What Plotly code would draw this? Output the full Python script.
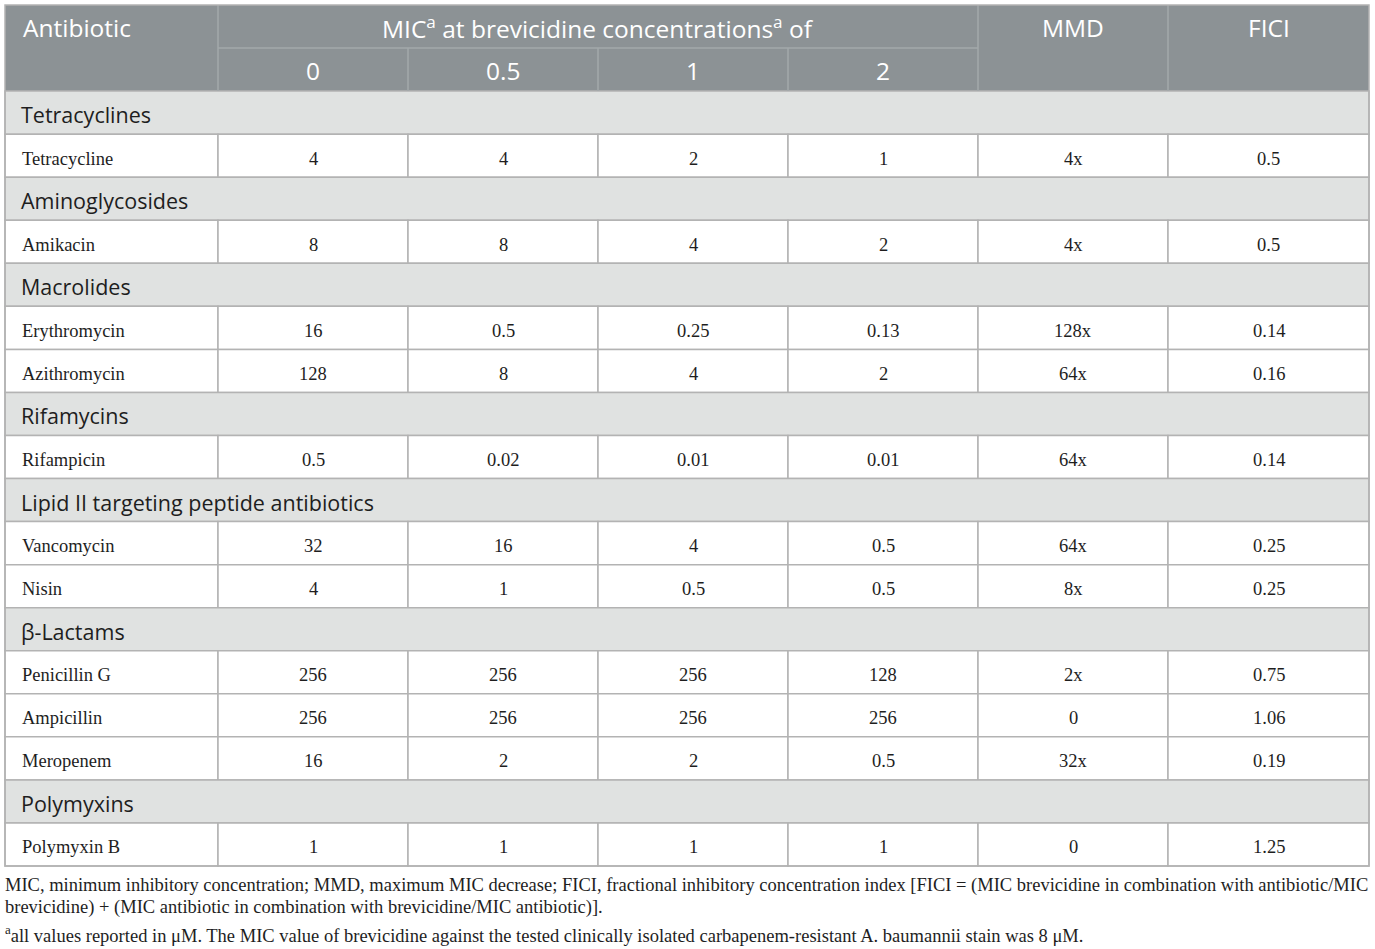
import plotly.graph_objects as go

# table content
classes = ["Tetracyclines", "Aminoglycosides", "Macrolides", "Macrolides", "Rifamycins",
           "Lipid II targeting peptide antibiotics", "Lipid II targeting peptide antibiotics",
           "β-Lactams", "β-Lactams", "β-Lactams", "Polymyxins"]
antibiotics = ["Tetracycline", "Amikacin", "Erythromycin", "Azithromycin", "Rifampicin",
               "Vancomycin", "Nisin", "Penicillin G", "Ampicillin", "Meropenem", "Polymyxin B"]
mic_0 = ["4", "8", "16", "128", "0.5", "32", "4", "256", "256", "16", "1"]
mic_05 = ["4", "8", "0.5", "8", "0.02", "16", "1", "256", "256", "2", "1"]
mic_1 = ["2", "4", "0.25", "4", "0.01", "4", "0.5", "256", "256", "2", "1"]
mic_2 = ["1", "2", "0.13", "2", "0.01", "0.5", "0.5", "128", "256", "0.5", "1"]
mmd = ["4x", "4x", "128x", "64x", "64x", "64x", "8x", "2x", "0", "32x", "0"]
fici = ["0.5", "0.5", "0.14", "0.16", "0.14", "0.25", "0.25", "0.75", "1.06", "0.19", "1.25"]

conc_labels = ["0", "0.5", "1", "2"]
footnote = [
    "MIC, minimum inhibitory concentration; MMD, maximum MIC decrease; FICI, fractional inhibitory concentration index [FICI = (MIC brevicidine in combination with antibiotic/MIC",
    "brevicidine) + (MIC antibiotic in combination with brevicidine/MIC antibiotic)].",
    "<sup>a</sup>all values reported in μM. The MIC value of brevicidine against the tested clinically isolated carbapenem-resistant A. baumannii stain was 8 μM.",
]

# layout constants
W, H = 1375, 949
col_edges = [5, 218, 408, 598, 788, 978, 1168, 1369]
top, bottom = 5, 866
HEAD_BG = "#8c9295"
HEAD_LINE = "#a3a8ab"
GROUP_BG = "#e0e2e1"
BORDER = "#b3b3b3"
SANS = "Open Sans"
SERIF = "Liberation Serif"

# build rows: ('group', name) or ('item', idx)
rows = []
prev = None
for i, c in enumerate(classes):
    if c != prev:
        rows.append(("group", c))
        prev = c
    rows.append(("item", i))

n_rows = len(rows) + 2
rh = (bottom - top) / n_rows


def ry(k):
    return top + k * rh


shapes = []
annos = []

# header background
shapes.append(dict(type="rect", x0=col_edges[0], x1=col_edges[-1], y0=ry(0), y1=ry(2),
                   fillcolor=HEAD_BG, line=dict(width=0), layer="below"))
# header inner lines
for xe in col_edges[1:-1]:
    if xe in col_edges[2:5]:
        shapes.append(dict(type="line", x0=xe, x1=xe, y0=ry(1), y1=ry(2),
                           line=dict(color=HEAD_LINE, width=1.5)))
    else:
        shapes.append(dict(type="line", x0=xe, x1=xe, y0=ry(0), y1=ry(2),
                           line=dict(color=HEAD_LINE, width=1.5)))
shapes.append(dict(type="line", x0=col_edges[1], x1=col_edges[5], y0=ry(1), y1=ry(1),
                   line=dict(color=HEAD_LINE, width=1.5)))

hfont = dict(family=SANS, size=24.5, color="white")
annos.append(dict(x=col_edges[0] + 16, y=(ry(0) + ry(1)) / 2, text="Antibiotic",
                  xanchor="left", font=hfont, yshift=-1))
annos.append(dict(x=(col_edges[1] + col_edges[5]) / 2, y=(ry(0) + ry(1)) / 2,
                  text="MIC<sup>a</sup> at brevicidine concentrations<sup>a</sup> of",
                  font=hfont, yshift=-1))
annos.append(dict(x=(col_edges[5] + col_edges[6]) / 2, y=(ry(0) + ry(1)) / 2,
                  text="MMD", font=hfont, yshift=-1))
annos.append(dict(x=(col_edges[6] + col_edges[7]) / 2, y=(ry(0) + ry(1)) / 2,
                  text="FICI", font=hfont, yshift=-1))
for j, lab in enumerate(conc_labels):
    annos.append(dict(x=(col_edges[j + 1] + col_edges[j + 2]) / 2, y=(ry(1) + ry(2)) / 2,
                      text=lab, font=hfont, yshift=-1))

# body
gfont = dict(family=SANS, size=21.5, color="#1e1e1e")
bfont = dict(family=SERIF, size=18.5, color="#1e1e1e")
for k, (kind, val) in enumerate(rows):
    y0, y1 = ry(k + 2), ry(k + 3)
    ym = (y0 + y1) / 2
    if kind == "group":
        shapes.append(dict(type="rect", x0=col_edges[0], x1=col_edges[-1], y0=y0, y1=y1,
                           fillcolor=GROUP_BG, line=dict(color=BORDER, width=1.5), layer="below"))
        annos.append(dict(x=col_edges[0] + 14, y=ym, text=val, xanchor="left", font=gfont,
                          yshift=-2))
    else:
        cells = [antibiotics[val], mic_0[val], mic_05[val], mic_1[val], mic_2[val], mmd[val], fici[val]]
        for j, txt in enumerate(cells):
            shapes.append(dict(type="rect", x0=col_edges[j], x1=col_edges[j + 1], y0=y0, y1=y1,
                               fillcolor="white", line=dict(color=BORDER, width=1.5), layer="below"))
            if j == 0:
                annos.append(dict(x=col_edges[0] + 15, y=ym, text=txt, xanchor="left", font=bfont,
                                  yshift=-3))
            else:
                annos.append(dict(x=(col_edges[j] + col_edges[j + 1]) / 2, y=ym, text=txt,
                                  font=bfont, yshift=-3))

# outer border
shapes.append(dict(type="rect", x0=col_edges[0], x1=col_edges[-1], y0=ry(0), y1=ry(n_rows),
                   line=dict(color=BORDER, width=1.5)))

# footnotes
ffont = dict(family=SERIF, size=18.5, color="#1e1e1e")
foot_y = [885, 907, 934]
for fy, txt in zip(foot_y, footnote):
    annos.append(dict(x=3, y=fy, text=txt, xanchor="left", font=ffont))

for a in annos:
    a.update(xref="x", yref="y", showarrow=False)
    a.setdefault("xanchor", "center")
    a.setdefault("yanchor", "middle")

fig = go.Figure()
fig.add_trace(go.Scatter(x=[0, W], y=[0, H], mode="markers", marker=dict(opacity=0),
                         hoverinfo="skip", showlegend=False))
fig.update_layout(
    width=W, height=H,
    margin=dict(l=0, r=0, t=0, b=0),
    paper_bgcolor="white", plot_bgcolor="white",
    xaxis=dict(range=[0, W], visible=False, fixedrange=True),
    yaxis=dict(range=[H, 0], visible=False, fixedrange=True),
    shapes=shapes, annotations=annos,
)
fig.write_html("out.html", config={"displayModeBar": False},
               post_script="document.body.style.margin='0';document.body.style.overflow='hidden';")
